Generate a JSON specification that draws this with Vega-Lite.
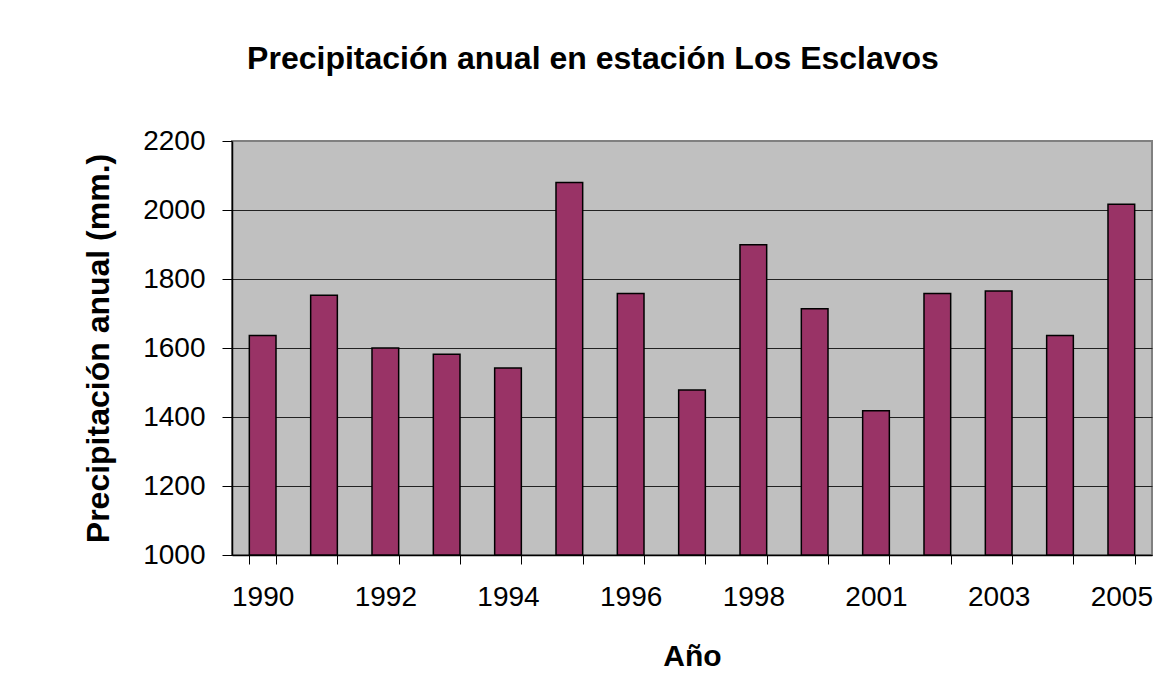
{
  "$schema": "https://vega.github.io/schema/vega-lite/v6.json",
  "width": 920,
  "height": 414,
  "autosize": {"type": "none"},
  "padding": {"left": 232, "top": 141, "right": 8, "bottom": 145},
  "background": "#ffffff",
  "title": {
    "text": "Precipitación anual en estación Los Esclavos",
    "font": "Liberation Sans",
    "fontSize": 32,
    "fontWeight": "bold",
    "color": "#000000",
    "anchor": "middle",
    "frame": "group",
    "dx": -99,
    "offset": 51
  },
  "config": {
    "view": {"fill": "#C0C0C0", "stroke": "#808080", "strokeWidth": 2},
    "axis": {
      "labelFont": "Liberation Sans",
      "titleFont": "Liberation Sans",
      "labelColor": "#000000",
      "titleColor": "#000000",
      "domainColor": "#000000",
      "tickColor": "#000000"
    }
  },
  "data": {
    "values": [
      {"year": "1990", "mm": 1636},
      {"year": "1991", "mm": 1753},
      {"year": "1992", "mm": 1600},
      {"year": "1993", "mm": 1582},
      {"year": "1994", "mm": 1542},
      {"year": "1995", "mm": 2080},
      {"year": "1996", "mm": 1758},
      {"year": "1997", "mm": 1478},
      {"year": "1998", "mm": 1899},
      {"year": "1999", "mm": 1714},
      {"year": "2001", "mm": 1418},
      {"year": "2002", "mm": 1758},
      {"year": "2003", "mm": 1765},
      {"year": "2004", "mm": 1636},
      {"year": "2005", "mm": 2017}
    ]
  },
  "mark": {"type": "bar", "fill": "#993366", "stroke": "#000000", "strokeWidth": 1.5},
  "encoding": {
    "x": {
      "field": "year",
      "type": "ordinal",
      "sort": null,
      "scale": {"paddingInner": 0.565, "paddingOuter": 0.2825},
      "axis": {
        "title": "Año",
        "titleFontSize": 30,
        "titleFontWeight": "bold",
        "titlePadding": 30,
        "labelFontSize": 28,
        "labelAngle": 0,
        "labelPadding": 19,
        "tickBand": "extent",
        "tickSize": 9,
        "tickWidth": 1,
        "domainWidth": 1.5,
        "labelExpr": "indexof(['1990','1992','1994','1996','1998','2001','2003','2005'], datum.label) >= 0 ? datum.label : ''"
      }
    },
    "y": {
      "field": "mm",
      "type": "quantitative",
      "scale": {"domain": [1000, 2200], "nice": false, "zero": false},
      "axis": {
        "title": "Precipitación anual (mm.)",
        "titleFontSize": 32,
        "titleFontWeight": "bold",
        "titlePadding": 27,
        "labelFontSize": 28,
        "labelPadding": 17,
        "format": "d",
        "values": [1000, 1200, 1400, 1600, 1800, 2000, 2200],
        "tickSize": 10,
        "tickWidth": 1,
        "domainWidth": 1.5,
        "grid": true,
        "gridColor": {"condition": {"test": "datum.value == 2200", "value": "#808080"}, "value": "#222222"},
        "gridWidth": 1.2
      }
    },
    "y2": {"datum": 1000}
  }
}
